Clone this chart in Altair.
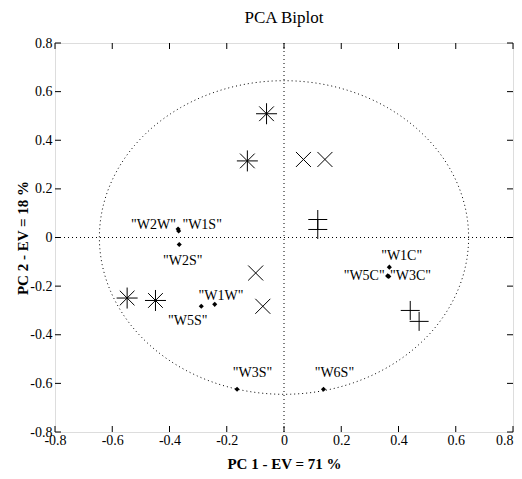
import altair as alt
import pandas as pd
import numpy as np

# ---- data ----
tick_values = [-0.8, -0.6, -0.4, -0.2, 0.0, 0.2, 0.4, 0.6, 0.8]

asterisk_x = [-0.061, -0.128, -0.548, -0.449]
asterisk_y = [0.509, 0.315, -0.249, -0.259]

cross_x = [0.068, 0.143, -0.099, -0.074]
cross_y = [0.321, 0.321, -0.146, -0.283]

plus_x = [0.118, 0.118, 0.441, 0.472]
plus_y = [0.074, 0.033, -0.300, -0.345]

var_names = ["W2W", "W1S", "W2S", "W5S", "W1W", "W1C", "W5C", "W3C", "W3S", "W6S"]
var_x = [-0.370, -0.368, -0.366, -0.289, -0.242, 0.368, 0.362, 0.366, -0.164, 0.138]
var_y = [0.035, 0.027, -0.029, -0.283, -0.275, -0.122, -0.158, -0.160, -0.624, -0.624]

label_text = ['"W2W"', '"W1S"', '"W2S"', '"W5S"', '"W1W"', '"W1C"', '"W5C"', '"W3C"', '"W3S"', '"W6S"']
label_x = [-0.456, -0.286, -0.354, -0.336, -0.220, 0.411, 0.280, 0.442, -0.110, 0.176]
label_y = [0.052, 0.052, -0.098, -0.344, -0.241, -0.077, -0.160, -0.160, -0.556, -0.556]

circle_radius = 0.645

# ---- chart ----
W, H = 458, 389
TICK = 6

xs = alt.Scale(domain=[-0.8, 0.8], nice=False, zero=False)
ys = alt.Scale(domain=[-0.8, 0.8], nice=False, zero=False)

label_expr = "datum.value < 0 ? '-' + format(-datum.value, '.1~f') : format(datum.value, '.1~f')"

x_axis = alt.Axis(values=tick_values, ticks=False, domain=False, grid=False,
                  labelFont="Liberation Sans Narrow", labelFontSize=14, labelColor="black",
                  labelPadding=1, labelFlush=False, labelOverlap=False, labelExpr=label_expr,
                  labelAlign={"condition": {"test": "datum.value > 0.79", "value": "right"},
                              "value": "center"},
                  title="PC 1 - EV = 71 %", titleFont="Liberation Serif", titleFontSize=15,
                  titleFontWeight="bold", titleColor="black", titleY=31, titleBaseline="middle")
y_axis = alt.Axis(values=tick_values, ticks=False, domain=False, grid=False,
                  labelFont="Liberation Sans Narrow", labelFontSize=14, labelColor="black",
                  labelPadding=3, labelFlush=False, labelOverlap=False, labelExpr=label_expr,
                  title="PC 2 - EV = 18 %", titleFont="Liberation Serif", titleFontSize=15,
                  titleFontWeight="bold", titleColor="black", titleX=-33, titleY=H / 2,
                  titleAngle=-90, titleAlign="center", titleBaseline="middle")

ang = np.linspace(0, 2 * np.pi, 181)
circle_df = pd.DataFrame({"x": circle_radius * np.cos(ang), "y": circle_radius * np.sin(ang), "i": range(len(ang))})

base_df = pd.DataFrame({"v": [0.0]})
ticks_df = pd.DataFrame({"t": tick_values})

ast_df = pd.DataFrame({"x": asterisk_x, "y": asterisk_y})
crs_df = pd.DataFrame({"x": cross_x, "y": cross_y})
pls_df = pd.DataFrame({"x": plus_x, "y": plus_y})
var_df = pd.DataFrame({"name": var_names, "x": var_x, "y": var_y})
lab_df = pd.DataFrame({"text": label_text, "x": label_x, "y": label_y})

frame = alt.Chart(base_df).mark_point(opacity=0).encode(
    x=alt.X("v:Q", scale=xs, axis=x_axis),
    y=alt.Y("v:Q", scale=ys, axis=y_axis),
)

vline = alt.Chart(base_df).mark_rule(color="black", strokeDash=[1, 3], strokeWidth=1).encode(
    x=alt.X("v:Q", scale=xs))
hline = alt.Chart(base_df).mark_rule(color="black", strokeDash=[1, 3], strokeWidth=1).encode(
    y=alt.Y("v:Q", scale=ys))

circle = alt.Chart(circle_df).mark_line(color="black", strokeDash=[1, 3], strokeWidth=1).encode(
    x=alt.X("x:Q", scale=xs), y=alt.Y("y:Q", scale=ys), order="i:Q")

tb = alt.Chart(ticks_df).mark_rule(color="black", strokeWidth=1).encode(
    x=alt.X("t:Q", scale=xs), y=alt.value(H), y2=alt.value(H - TICK))
tt = alt.Chart(ticks_df).mark_rule(color="black", strokeWidth=1).encode(
    x=alt.X("t:Q", scale=xs), y=alt.value(0), y2=alt.value(TICK))
tl = alt.Chart(ticks_df).mark_rule(color="black", strokeWidth=1).encode(
    y=alt.Y("t:Q", scale=ys), x=alt.value(0), x2=alt.value(TICK))
tr = alt.Chart(ticks_df).mark_rule(color="black", strokeWidth=1).encode(
    y=alt.Y("t:Q", scale=ys), x=alt.value(W), x2=alt.value(W - TICK))

ASTER = "M-1,0L1,0M0,-1L0,1M-0.7,-0.7L0.7,0.7M-0.7,0.7L0.7,-0.7"
XMARK = "M-1,-1L1,1M-1,1L1,-1"
PLUS = "M-1,0L1,0M0,-1L0,1"

ast = alt.Chart(ast_df).mark_point(shape=ASTER, size=441, filled=False, color="black",
                                   strokeWidth=1, opacity=1).encode(
    x=alt.X("x:Q", scale=xs), y=alt.Y("y:Q", scale=ys))
crs = alt.Chart(crs_df).mark_point(shape=XMARK, size=225, filled=False, color="black",
                                   strokeWidth=1, opacity=1).encode(
    x=alt.X("x:Q", scale=xs), y=alt.Y("y:Q", scale=ys))
pls = alt.Chart(pls_df).mark_point(shape=PLUS, size=361, filled=False, color="black",
                                   strokeWidth=1, opacity=1).encode(
    x=alt.X("x:Q", scale=xs), y=alt.Y("y:Q", scale=ys))
var = alt.Chart(var_df).mark_point(shape="diamond", size=26, filled=True, color="black",
                                   opacity=1).encode(
    x=alt.X("x:Q", scale=xs), y=alt.Y("y:Q", scale=ys))
labs = alt.Chart(lab_df).mark_text(font="Liberation Serif", fontSize=14, align="center",
                                   baseline="middle", color="black").encode(
    x=alt.X("x:Q", scale=xs), y=alt.Y("y:Q", scale=ys), text="text:N")

chart = alt.layer(frame, vline, hline, circle, tb, tt, tl, tr, ast, crs, pls, var, labs).properties(
    width=W, height=H,
    title=alt.TitleParams("PCA Biplot", font="Liberation Serif", fontSize=17, fontWeight="normal",
                          anchor="middle", offset=9, color="black"),
    autosize="none",
    padding={"left": 47, "top": 35, "right": 1, "bottom": 39},
).configure_view(stroke="black", strokeWidth=1).configure(background="white")

chart.save("out.html", embed_options={"renderer": "svg", "actions": False})
